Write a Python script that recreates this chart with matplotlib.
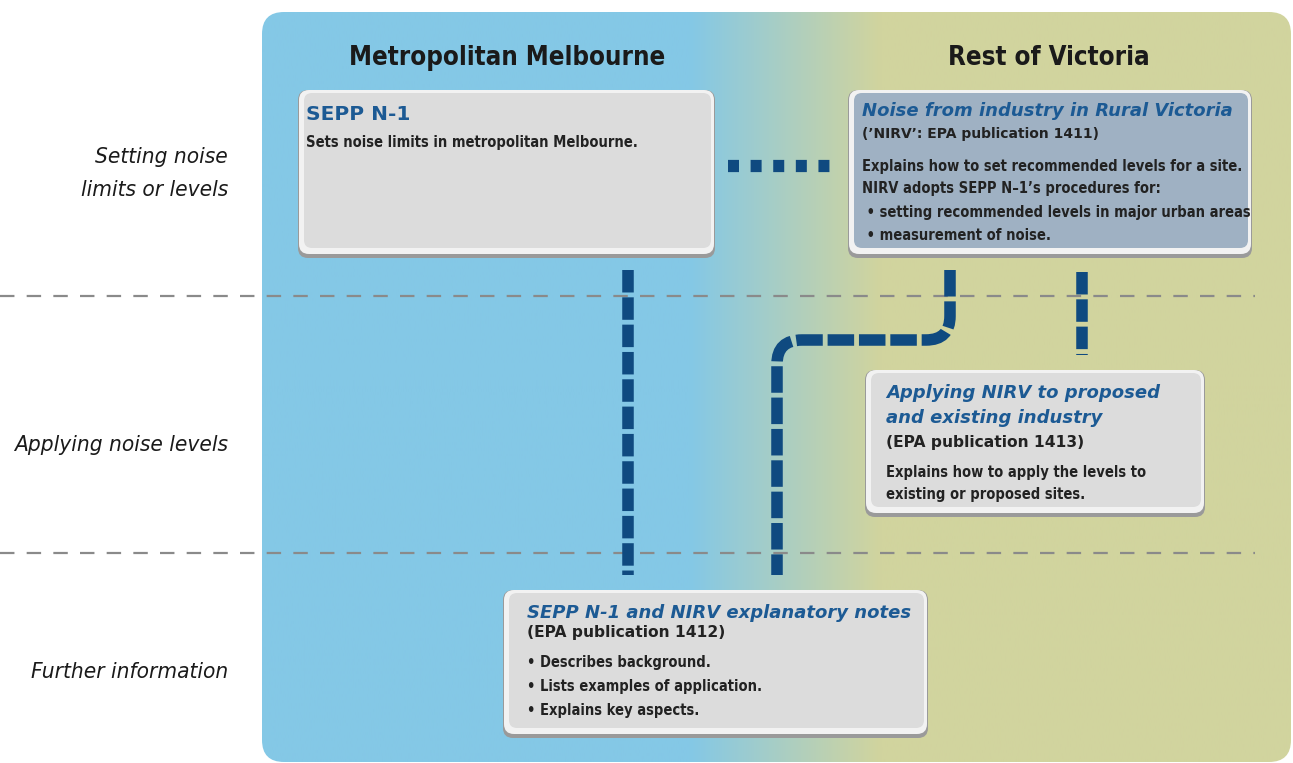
import matplotlib
matplotlib.use("Agg")
import matplotlib.pyplot as plt
import numpy as np
from matplotlib.patches import FancyBboxPatch
from matplotlib.path import Path
from matplotlib.patches import PathPatch
from matplotlib import font_manager

# ---- content ----
columns = ["Metropolitan Melbourne", "Rest of Victoria"]
rows = ["Setting noise\nlimits or levels", "Applying noise levels", "Further information"]

box_titles = [
    "SEPP N-1",
    "Noise from industry in Rural Victoria",
    "Applying NIRV to proposed\nand existing industry",
    "SEPP N-1 and NIRV explanatory notes",
]
box_subtitles = [
    "",
    "(\u2019NIRV\u2019: EPA publication 1411)",
    "(EPA publication 1413)",
    "(EPA publication 1412)",
]
box_bodies = [
    ["Sets noise limits in metropolitan Melbourne."],
    ["Explains how to set recommended levels for a site.",
     "NIRV adopts SEPP N\u20131\u2019s procedures for:",
     " \u2022 setting recommended levels in major urban areas",
     " \u2022 measurement of noise."],
    ["Explains how to apply the levels to",
     "existing or proposed sites."],
    ["\u2022 Describes background.",
     "\u2022 Lists examples of application.",
     "\u2022 Explains key aspects."],
]

# layout (pixel space)
W, H = 1293, 763
box_rects = [(298, 90, 417, 168), (848, 90, 404, 168), (865, 370, 340, 147), (503, 590, 425, 148)]
box_faces = ["#dcdcdc", "#9fb1c3", "#dcdcdc", "#dcdcdc"]
text_x = [306, 862, 886, 527]
title_y = [115, 111, 393, 613]
sub_y = [None, 134, 442, 633]
sub_size = [None, 10.0, 11.2, 11.2]
body_y = [143, 166, 472, 663]
body_step = [23, 23, 22, 24]
row_y = [[157, 190], [445], [672]]
sep_y = [296, 553]

BLUE = "#0f4a80"
TITLE_BLUE = "#1c5a94"
TEXT = "#222222"

fig = plt.figure(figsize=(W / 100, H / 100), dpi=100)
ax = fig.add_axes([0, 0, 1, 1])
ax.set_xlim(0, W)
ax.set_ylim(H, 0)
ax.axis("off")

cond = font_manager.FontProperties(family="DejaVu Sans", stretch="condensed", weight="bold")
cond_it = font_manager.FontProperties(family="DejaVu Sans", stretch="condensed", style="italic")

# background panel with gradient
panel = FancyBboxPatch((262, 12), 1029, 750, boxstyle="round,pad=0,rounding_size=22",
                       facecolor="none", edgecolor="none")
ax.add_patch(panel)
c1 = np.array([132, 200, 230]) / 255
c2 = np.array([209, 212, 158]) / 255
xs = np.linspace(262, W, 400)
t = np.clip((xs - 690) / (880 - 690), 0, 1)
grad = (1 - t)[:, None] * c1 + t[:, None] * c2
img = ax.imshow(grad[None, :, :], extent=(262, W, H, 12), aspect="auto", zorder=0)
img.set_clip_path(panel)

# column headers
for name, cx in zip(columns, [507, 1049]):
    ax.text(cx, 58, name, ha="center", va="center", fontproperties=cond, fontsize=18.5,
            color="#1a1a1a")

# row labels
for lab, ys in zip(rows, row_y):
    for line, y in zip(lab.split("\n"), ys):
        ax.text(228, y, line, ha="right", va="center", fontproperties=cond_it, fontsize=16.2,
                color="#1a1a1a")

# separators
for y in sep_y:
    ax.plot([0, 1255], [y, y], color="#8a8a8a", lw=1.6, ls=(0, (6.5, 5.5)), zorder=2)

# connectors
def dashed(xs_, ys_, on, off, lw=8.3):
    ax.plot(xs_, ys_, color=BLUE, lw=lw, ls=(0, (on, off)), solid_capstyle="butt",
            dash_capstyle="butt", zorder=3)

dashed([628, 628], [270, 575], 1.95, 0.42)
dashed([1082, 1082], [272, 355], 1.95, 0.42)
dashed([728, 837], [166, 166], 0.9, 0.95, lw=8.8)
verts = [(950, 270), (950, 316), (950, 340), (926, 340), (802, 340), (777, 340), (777, 364), (777, 575)]
codes = [Path.MOVETO, Path.LINETO, Path.CURVE3, Path.CURVE3, Path.LINETO, Path.CURVE3, Path.CURVE3, Path.LINETO]
ax.add_patch(PathPatch(Path(verts, codes), facecolor="none", edgecolor=BLUE, lw=8.3,
                       ls=(0, (2.3, 0.42)), capstyle="butt", zorder=3))

# boxes
for i, (x, y, w, h) in enumerate(box_rects):
    ax.add_patch(FancyBboxPatch((x, y), w, h, boxstyle="round,pad=0,rounding_size=10",
                                facecolor="#9a9a9a", edgecolor="none", zorder=4))
    ax.add_patch(FancyBboxPatch((x + 1, y), w - 2, h - 4, boxstyle="round,pad=0,rounding_size=10",
                                facecolor="#f2f2f2", edgecolor="none", zorder=4))
    ax.add_patch(FancyBboxPatch((x + 6, y + 3), w - 10, h - 13, boxstyle="round,pad=0,rounding_size=8",
                                facecolor=box_faces[i], edgecolor="none", zorder=4))

    tx = text_x[i]
    title = box_titles[i]
    if i == 0:
        ax.text(tx, title_y[i], title, ha="left", va="center", fontsize=14.5, fontweight="bold",
                color=TITLE_BLUE, zorder=5)
    else:
        for k, line in enumerate(title.split("\n")):
            ax.text(tx, title_y[i] + 25 * k, line, ha="left", va="center", fontsize=13,
                    fontweight="bold", style="italic", color=TITLE_BLUE, zorder=5)
        ax.text(tx, sub_y[i], box_subtitles[i], ha="left", va="center", fontsize=sub_size[i],
                fontweight="bold", color=TEXT, zorder=5)
    for k, line in enumerate(box_bodies[i]):
        ax.text(tx, body_y[i] + body_step[i] * k, line, ha="left", va="center",
                fontproperties=cond, fontsize=10.5, color=TEXT, zorder=5)

fig.savefig("out.png", dpi=100, facecolor="white")
